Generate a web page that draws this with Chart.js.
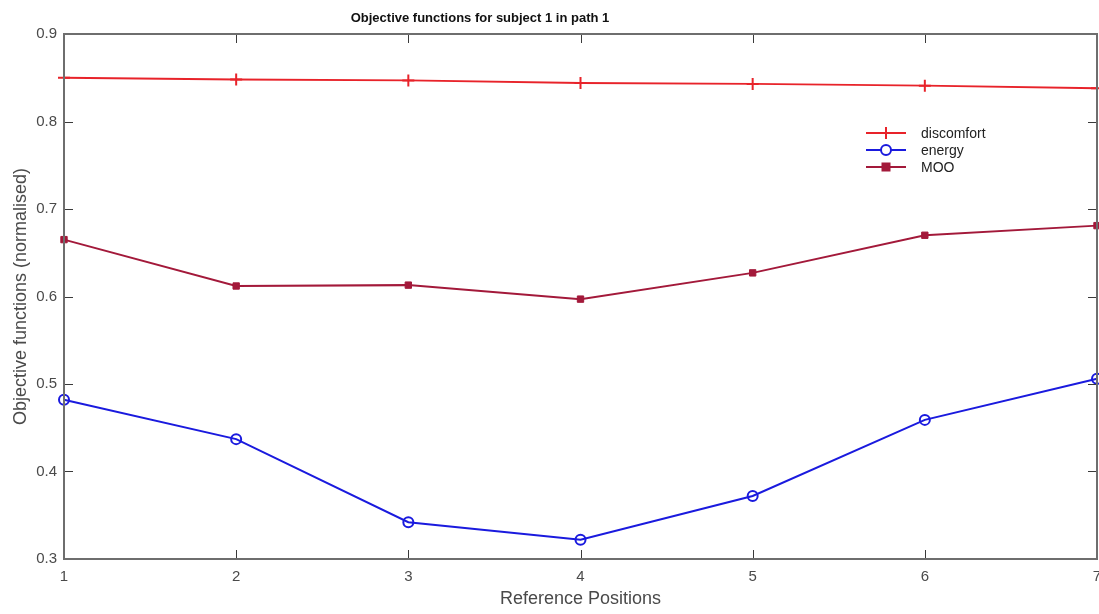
<!DOCTYPE html>
<html>
<head>
<meta charset="utf-8">
<script src="https://cdn.jsdelivr.net/npm/chart.js@4/dist/chart.umd.min.js"></script>
<style>
html,body{margin:0;padding:0;background:#fff;}
#wrap{width:1099px;height:614px;position:relative;}
</style>
</head>
<body>
<div id="wrap"><canvas id="c" width="1099" height="614"></canvas></div>
<script>
const positions = [1, 2, 3, 4, 5, 6, 7];
const discomfort = [0.850, 0.848, 0.847, 0.844, 0.843, 0.841, 0.838];
const energy = [0.482, 0.437, 0.342, 0.322, 0.372, 0.459, 0.506];
const moo = [0.665, 0.612, 0.613, 0.597, 0.627, 0.670, 0.681];
const yTicks = [0.3, 0.4, 0.5, 0.6, 0.7, 0.8, 0.9];
const titleText = 'Objective functions for subject 1 in path 1';
const xTitle = 'Reference Positions';
const yTitle = 'Objective functions (normalised)';

const FONT = "'Liberation Sans', Arial, sans-serif";
const toPts = (arr) => positions.map((p, i) => ({x: p, y: arr[i]}));

const boxTicks = {
  id: 'boxTicks',
  afterDraw(chart) {
    const {ctx, chartArea: a, scales: {x, y}} = chart;
    ctx.save();
    ctx.strokeStyle = '#3a3a3a';
    ctx.lineWidth = 1;
    const L = 9;
    positions.forEach(p => {
      const px = Math.round(x.getPixelForValue(p)) + 0.5;
      ctx.beginPath();
      ctx.moveTo(px, a.bottom); ctx.lineTo(px, a.bottom - L);
      ctx.moveTo(px, a.top); ctx.lineTo(px, a.top + L);
      ctx.stroke();
    });
    yTicks.forEach(v => {
      const py = Math.round(y.getPixelForValue(v)) + 0.5;
      ctx.beginPath();
      ctx.moveTo(a.left, py); ctx.lineTo(a.left + L, py);
      ctx.moveTo(a.right, py); ctx.lineTo(a.right - L, py);
      ctx.stroke();
    });
    ctx.strokeStyle = '#6e6e6e';
    ctx.lineWidth = 2;
    ctx.strokeRect(a.left, a.top, a.right - a.left, a.bottom - a.top);
    // title
    ctx.fillStyle = '#111';
    ctx.font = 'bold 13px ' + FONT;
    ctx.textAlign = 'center';
    ctx.textBaseline = 'middle';
    ctx.fillText(titleText, 480, 18);
    // legend
    const lx = 866, tx = 921;
    const rows = [133, 150, 167];
    chart.data.datasets.forEach((ds, i) => {
      const ry = rows[i];
      ctx.strokeStyle = ds.borderColor;
      ctx.lineWidth = 2;
      ctx.beginPath(); ctx.moveTo(lx, ry); ctx.lineTo(lx + 40, ry); ctx.stroke();
      const mx = lx + 20;
      if (ds.pointStyle === 'cross') {
        ctx.beginPath(); ctx.moveTo(mx, ry - 6); ctx.lineTo(mx, ry + 6); ctx.stroke();
      } else if (ds.pointStyle === 'circle') {
        ctx.beginPath(); ctx.arc(mx, ry, 5, 0, Math.PI * 2);
        ctx.fillStyle = '#fff'; ctx.fill(); ctx.stroke();
      } else {
        ctx.fillStyle = ds.pointBackgroundColor;
        ctx.fillRect(mx - 4.5, ry - 4.5, 9, 9);
      }
      ctx.fillStyle = '#222';
      ctx.font = '14px ' + FONT;
      ctx.textAlign = 'left';
      ctx.fillText(ds.label, tx, ry + 1);
    });
    ctx.restore();
  }
};

new Chart(document.getElementById('c'), {
  type: 'line',
  data: {
    datasets: [
      {label: 'discomfort', data: toPts(discomfort), borderColor: '#e8232a', backgroundColor: '#e8232a',
       borderWidth: 2, pointStyle: 'cross', pointRadius: 6, pointBorderWidth: 2, pointBorderColor: '#e8232a', tension: 0},
      {label: 'energy', data: toPts(energy), borderColor: '#1a1ade', backgroundColor: '#fff',
       borderWidth: 2, pointStyle: 'circle', pointRadius: 5, pointBorderWidth: 2, pointBorderColor: '#1a1ade', pointBackgroundColor: 'rgba(255,255,255,0)', tension: 0},
      {label: 'MOO', data: toPts(moo), borderColor: '#a3193a', backgroundColor: '#a3193a',
       borderWidth: 2, pointStyle: 'rect', pointRadius: 4.5, pointBorderWidth: 1, pointBorderColor: '#a3193a', pointBackgroundColor: '#a3193a', tension: 0}
    ]
  },
  options: {
    responsive: false,
    animation: false,
    clip: false,
    layout: {autoPadding: false, padding: {top: 34, right: 2, left: 0, bottom: 0}},
    plugins: {legend: {display: false}, title: {display: false}, tooltip: {enabled: false}},
    scales: {
      x: {
        type: 'linear', min: 1, max: 7,
        afterBuildTicks: (s) => { s.ticks = positions.map(v => ({value: v})); },
        afterFit: (s) => { s.height = 55; s.paddingLeft = 0; s.paddingRight = 0; },
        grid: {display: false, drawTicks: false},
        border: {display: false},
        ticks: {color: '#4a4a4a', font: {family: FONT, size: 15}, padding: 9, maxRotation: 0},
        title: {display: true, text: xTitle, color: '#4a4a4a', font: {family: FONT, size: 18}, padding: {top: 3}}
      },
      y: {
        type: 'linear', min: 0.3, max: 0.9,
        afterBuildTicks: (s) => { s.ticks = yTicks.map(v => ({value: v})); },
        afterFit: (s) => { s.width = 64; s.paddingTop = 0; s.paddingBottom = 0; },
        grid: {display: false, drawTicks: false},
        border: {display: false},
        ticks: {color: '#4a4a4a', font: {family: FONT, size: 15}, padding: 7, callback: v => v.toFixed(1)},
        title: {display: true, text: yTitle, color: '#4a4a4a', font: {family: FONT, size: 18}, padding: {top: 10, bottom: 0}}
      }
    }
  },
  plugins: [boxTicks]
});
</script>
</body>
</html>
